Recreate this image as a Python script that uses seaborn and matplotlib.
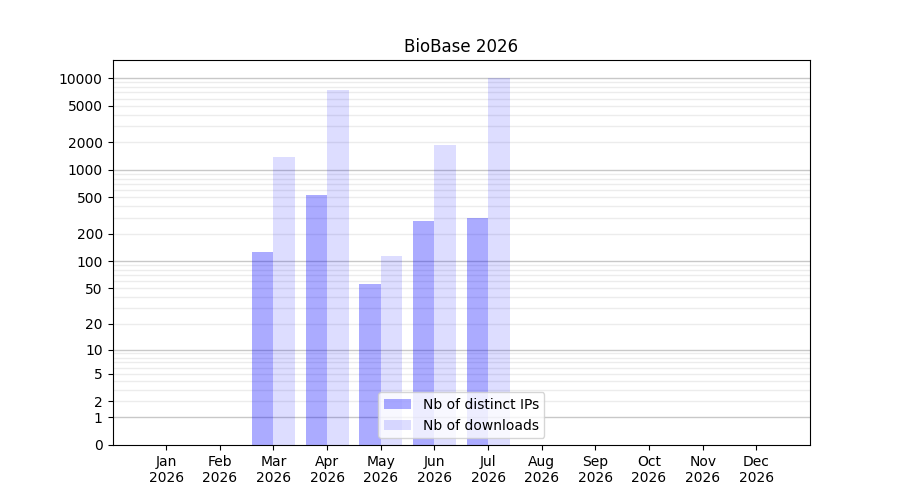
import numpy as np
import pandas as pd
import matplotlib
matplotlib.use("Agg")
import matplotlib.pyplot as plt
import seaborn as sns

months = ["Jan", "Feb", "Mar", "Apr", "May", "Jun", "Jul", "Aug", "Sep", "Oct", "Nov", "Dec"]
year = "2026"
distinct_ips = [0, 0, 126, 532, 56, 276, 298, 0, 0, 0, 0, 0]
downloads = [0, 0, 1380, 7430, 114, 1870, 9950, 0, 0, 0, 0, 0]
ytick_values = [0, 1, 2, 5, 10, 20, 50, 100, 200, 500, 1000, 2000, 5000, 10000]
series_labels = ["Nb of distinct IPs", "Nb of downloads"]

df = pd.DataFrame({
    "month": months * 2,
    "value": distinct_ips + downloads,
    "serie": [series_labels[0]] * len(months) + [series_labels[1]] * len(months),
})

fig, ax = plt.subplots(figsize=(9, 5), dpi=100)

# echelle log(1+x) pour garder le zero
ax.set_yscale("function", functions=(lambda v: np.log10(1 + np.clip(v, 0, None)),
                                     lambda v: 10 ** v - 1))

sns.barplot(data=df, x="month", y="value", hue="serie", order=months,
            hue_order=series_labels, palette=["#0000ff", "#0000ff"],
            ax=ax, legend=False, zorder=2, saturation=1)

alphas = [0.33, 0.135]
for cont, a in zip(ax.containers, alphas):
    for p in cont.patches:
        p.set_facecolor((0, 0, 1, a))
        p.set_edgecolor("none")

# grille: decades plus sombres
for d in range(0, 5):
    for k in range(1, 10):
        lvl = k * 10 ** d
        if lvl > 15800:
            continue
        ax.axhline(lvl, color="#c8c8c8" if k == 1 else "#ececec", lw=1, zorder=0.5)

ax.set_ylim(0, 15800)
ax.set_yticks(ytick_values)
ax.set_yticklabels([str(v) for v in ytick_values])
ax.minorticks_off()
ax.set_xlim(-1, len(months))
ax.set_xticks(range(len(months)))
ax.set_xticklabels([f"{m}\n{year}" for m in months])
ax.set_xlabel("")
ax.set_ylabel("")
ax.set_title("BioBase 2026")
ax.legend(ax.containers, series_labels, loc="lower center")

plt.savefig("out.png", dpi=100)
plt.close()
